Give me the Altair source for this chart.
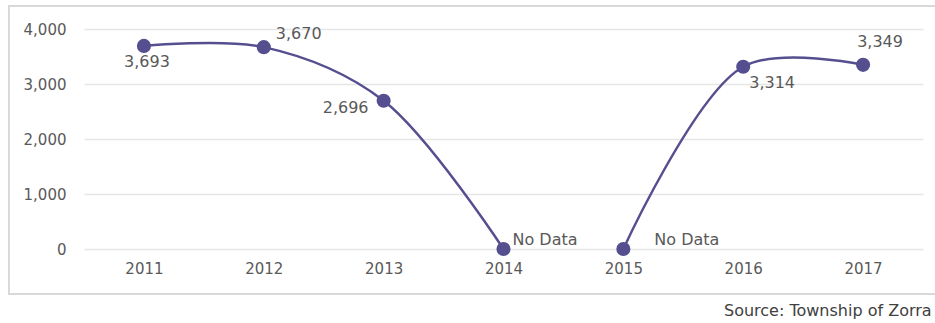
import altair as alt
import pandas as pd

years = ["2011", "2012", "2013", "2014", "2015", "2016", "2017"]
values = [3693, 3670, 2696, 0, 0, 3314, 3349]
labels = ["3,693", "3,670", "2,696", "No Data", "No Data", "3,314", "3,349"]
segments = ["a", "a", "a", "a", "b", "b", "b"]
source_text = "Source: Township of Zorra"

df = pd.DataFrame({"year": years, "value": values, "label": labels, "seg": segments})
one = pd.DataFrame({"t": [source_text]})

FONT = "DejaVu Sans"
COLOR = "#564f8f"
GRAY = "#595959"

x = alt.X("year:O", scale=alt.Scale(type="point", padding=0.5),
          axis=alt.Axis(title=None, labelAngle=0, labelFont=FONT, labelFontSize=15,
                        labelColor=GRAY, domain=False, ticks=False, labelPadding=12))
y = alt.Y("value:Q", scale=alt.Scale(domain=[0, 4000]),
          axis=alt.Axis(title=None, values=[0, 1000, 2000, 3000, 4000], format=",d",
                        labelFont=FONT, labelFontSize=15, labelColor=GRAY, domain=False,
                        ticks=False, labelPadding=18, gridColor="#e6e6e6", gridWidth=1.5))

base = alt.Chart(df)

box = alt.Chart(one).mark_rect(fill=None, stroke="#d9d9d9", strokeWidth=2, clip=False).encode(
    x=alt.value(-75), x2=alt.value(860), y=alt.value(-23), y2=alt.value(265))

line = base.mark_line(color=COLOR, strokeWidth=2.5, interpolate="catmull-rom").encode(
    x=x, y=y, detail="seg:N")

points = base.mark_circle(color=COLOR, size=200, opacity=1).encode(x=x, y=y)

def lab(yr_list, dx, dy, align="center"):
    return base.transform_filter(alt.FieldOneOfPredicate(field="year", oneOf=yr_list)).mark_text(
        font=FONT, fontSize=16, color=GRAY, dx=dx, dy=dy, align=align).encode(
        x="year:O", y="value:Q", text="label:N")

labs = [
    lab(["2011"], 3, 16),
    lab(["2012"], 12, -13, "left"),
    lab(["2013"], -38, 7),
    lab(["2014"], 9, -9, "left"),
    lab(["2015"], 31, -9, "left"),
    lab(["2016"], 6, 16, "left"),
    lab(["2017"], 17, -23),
]

src = alt.Chart(one).mark_text(font=FONT, fontSize=16, color="#404040", align="left", clip=False).encode(
    x=alt.value(640), y=alt.value(282), text="t:N")

chart = alt.layer(box, line, points, *labs, src).properties(
    width=839, height=220,
    autosize=alt.AutoSizeParams(type="none"),
    padding={"left": 84, "top": 29, "right": 12, "bottom": 74},
).configure_view(stroke=None)

chart.save("out.html", embed_options={"renderer": "svg", "actions": False})
